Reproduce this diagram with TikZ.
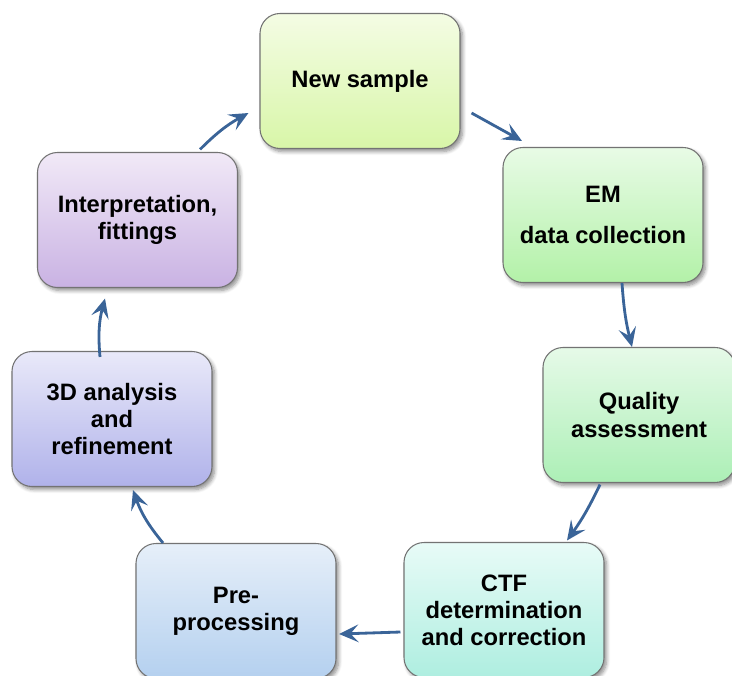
\documentclass[tikz,border=0pt]{standalone}
\usepackage{fontspec}
\setmainfont{Liberation Sans}
\usetikzlibrary{arrows.meta,shadows.blur}

\definecolor{arrowblue}{HTML}{3A6498}
\definecolor{newtop}{HTML}{F4FCE4}
\definecolor{newbot}{HTML}{D8F6A8}
\definecolor{emtop}{HTML}{E8FBE6}
\definecolor{embot}{HTML}{B3F1A8}
\definecolor{qualtop}{HTML}{E6FAE8}
\definecolor{qualbot}{HTML}{ACEFB6}
\definecolor{ctftop}{HTML}{E8FBF7}
\definecolor{ctfbot}{HTML}{AEEEE0}
\definecolor{pretop}{HTML}{E6EFF9}
\definecolor{prebot}{HTML}{B4D0EF}
\definecolor{tdtop}{HTML}{E9E9F9}
\definecolor{tdbot}{HTML}{B0B2EA}
\definecolor{inttop}{HTML}{F1E9F7}
\definecolor{intbot}{HTML}{C9B2E3}

\begin{document}
\begin{tikzpicture}[
    stage/.style={draw=black!55, line width=0.6pt, rounded corners=0.4cm, align=center,
      minimum width=4cm, minimum height=2.7cm, font=\fontsize{13.5}{15.4}\selectfont\bfseries,
      blur shadow={shadow xshift=0.05cm, shadow yshift=-0.06cm, shadow blur steps=6, shadow opacity=45}},
    arr/.style={-{Stealth[length=11pt,width=10pt,inset=4.5pt]}, line width=1.6pt, draw=arrowblue}
  ]
    \clip (0,0) rectangle (14.64,13.5);

    % the seven stages, clockwise from the top
    \node[stage, top color=newtop, bottom color=newbot] (new) at (7.2,11.88) {New sample};
    \node[stage, top color=emtop, bottom color=embot] (em) at (12.06,9.2) {EM\\[8pt]data collection};
    \node[stage, top color=qualtop, bottom color=qualbot, minimum width=3.84cm] (qual) at (12.78,5.2) {Quality\\assessment};
    \node[stage, top color=ctftop, bottom color=ctfbot] (ctf) at (10.08,1.3) {CTF\\determination\\and correction};
    \node[stage, top color=pretop, bottom color=prebot] (pre) at (4.72,1.28) {Pre-\\processing};
    \node[stage, top color=tdtop, bottom color=tdbot] (td) at (2.24,5.12) {3D analysis\\and\\refinement};
    \node[stage, top color=inttop, bottom color=intbot] (interp) at (2.75,9.1) {Interpretation,\\fittings};

    % the cycle
    \draw[arr] ([xshift=1.25cm,yshift=0.05cm]interp.north) to[bend left=8] ([xshift=-0.22cm,yshift=-0.64cm]new.west);
    \draw[arr] ([xshift=0.22cm,yshift=-0.64cm]new.east) -- ([xshift=-1.62cm,yshift=0.12cm]em.north);
    \draw[arr] ([xshift=0.38cm]em.south) to[bend right=5] ([xshift=-0.14cm]qual.north);
    \draw[arr] ([xshift=-0.78cm,yshift=-0.03cm]qual.south) to[bend left=5] ([xshift=1.26cm,yshift=0.03cm]ctf.north);
    \draw[arr] ([xshift=-0.06cm,yshift=-0.44cm]ctf.west) -- ([xshift=0.05cm,yshift=-0.46cm]pre.east);
    \draw[arr] ([xshift=-1.46cm]pre.north) to[bend left=10] ([xshift=0.42cm,yshift=-0.06cm]td.south);
    \draw[arr] ([xshift=-0.24cm,yshift=-0.12cm]td.north) to[bend left=10] ([xshift=-0.65cm,yshift=-0.21cm]interp.south);
\end{tikzpicture}
\end{document}
